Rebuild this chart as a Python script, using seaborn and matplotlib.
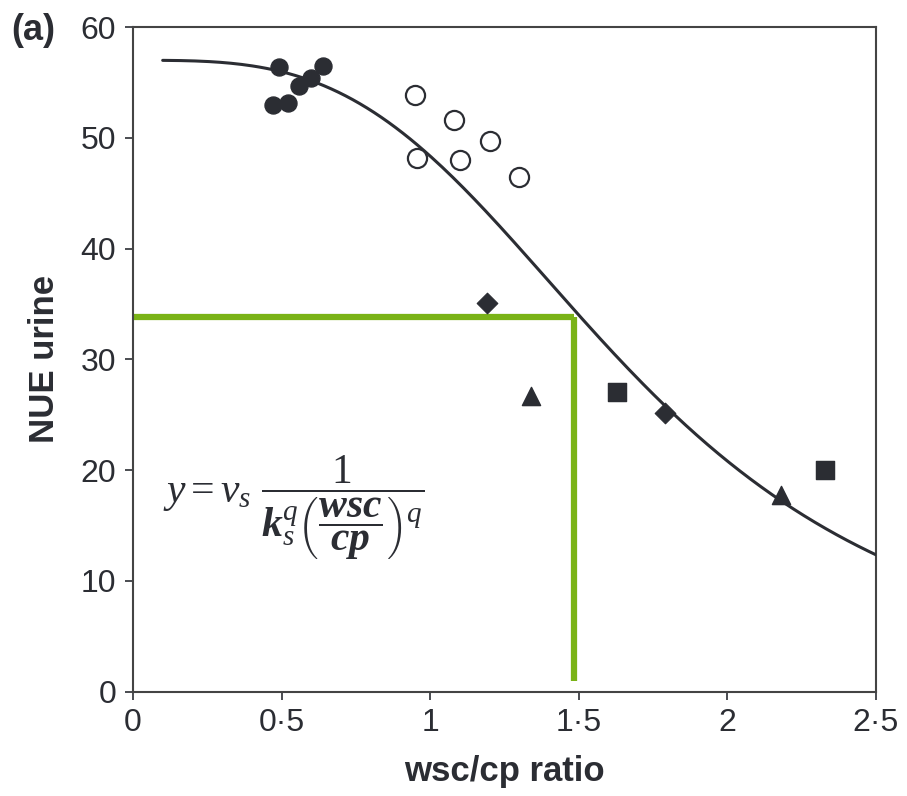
import numpy as np
import pandas as pd
import seaborn as sns
import matplotlib.pyplot as plt

# observed points, one list pair per treatment group
filled_x = [0.49, 0.47, 0.52, 0.56, 0.60, 0.64]
filled_y = [56.4, 53.0, 53.1, 54.7, 55.4, 56.5]
open_x = [0.95, 1.08, 1.20, 0.955, 1.10, 1.30]
open_y = [53.9, 51.6, 49.7, 48.2, 48.0, 46.5]
diamond_x = [1.19, 1.79]
diamond_y = [35.1, 25.2]
triangle_x = [1.34, 2.18]
triangle_y = [26.7, 17.8]
square_x = [1.63, 2.33]
square_y = [27.1, 20.0]

# fitted model parameters (y = vs / (1 + (x/ks)^q))
vs, ks, q = 57.0, 1.69, 3.28
curve_x = np.linspace(0.1, 2.5, 200)

# green read-off guide at wsc/cp = 1.5
guide_x = 1.485
guide_y = 33.8

x_ticks = [0, 0.5, 1, 1.5, 2, 2.5]
x_labels = ['0', '0·5', '1', '1·5', '2', '2·5']
y_ticks = [0, 10, 20, 30, 40, 50, 60]

sns.set_style('ticks')
plt.rcParams['font.family'] = ['Liberation Sans', 'DejaVu Sans']
plt.rcParams['mathtext.fontset'] = 'custom'
plt.rcParams['mathtext.rm'] = 'Liberation Serif'
plt.rcParams['mathtext.it'] = 'Liberation Serif:italic'
plt.rcParams['mathtext.bf'] = 'Liberation Serif:italic:bold'

dark = '#2b2d33'
green = '#7ab317'

fig = plt.figure(figsize=(9.07, 7.96), dpi=100)
ax = fig.add_axes([0.1466, 0.131, 0.8192, 0.835])

curve = pd.DataFrame({'x': curve_x, 'y': vs / (1 + (curve_x / ks) ** q)})
sns.lineplot(data=curve, x='x', y='y', ax=ax, color=dark, lw=2.2, zorder=3)

ax.plot([0, guide_x], [guide_y, guide_y], color=green, lw=4.5,
        solid_capstyle='butt', zorder=2)
ax.plot([guide_x, guide_x], [guide_y, 1.0], color=green, lw=4.5,
        solid_capstyle='butt', zorder=2)

sns.scatterplot(x=filled_x, y=filled_y, ax=ax, marker='o', s=150,
                color=dark, edgecolor=dark, zorder=4)
sns.scatterplot(x=open_x, y=open_y, ax=ax, marker='o', s=190,
                facecolor='white', edgecolor=dark, linewidth=1.6, zorder=4)
sns.scatterplot(x=diamond_x, y=diamond_y, ax=ax, marker='D', s=110,
                color=dark, edgecolor=dark, zorder=4)
sns.scatterplot(x=triangle_x, y=triangle_y, ax=ax, marker='^', s=170,
                color=dark, edgecolor=dark, zorder=4)
sns.scatterplot(x=square_x, y=square_y, ax=ax, marker='s', s=170,
                color=dark, edgecolor=dark, zorder=4)

ax.set_xlim(0, 2.5)
ax.set_ylim(0, 60)
ax.set_xticks(x_ticks)
ax.set_xticklabels(x_labels)
ax.set_yticks(y_ticks)
ax.tick_params(labelsize=23, colors=dark, length=6, width=1.2, pad=6)
for sp in ax.spines.values():
    sp.set_visible(True)
    sp.set_color('#444444')
    sp.set_linewidth(1.5)

ax.set_xlabel('wsc/cp ratio', fontsize=25, fontweight='bold', color=dark, labelpad=12)
ax.set_ylabel('NUE urine', fontsize=25, fontweight='bold', color=dark, labelpad=14)

fig.text(0.012, 0.95, '(a)', fontsize=26, fontweight='bold', color=dark)

ax.text(0.1, 16.6,
        r'$y = v_s\ \dfrac{1}{\mathbf{k}_s^q\left(\dfrac{\mathbf{wsc}}{\mathbf{cp}}\right)^q}$',
        fontsize=30, color=dark, va='center', ha='left')

fig.savefig('out.png', dpi=100)
